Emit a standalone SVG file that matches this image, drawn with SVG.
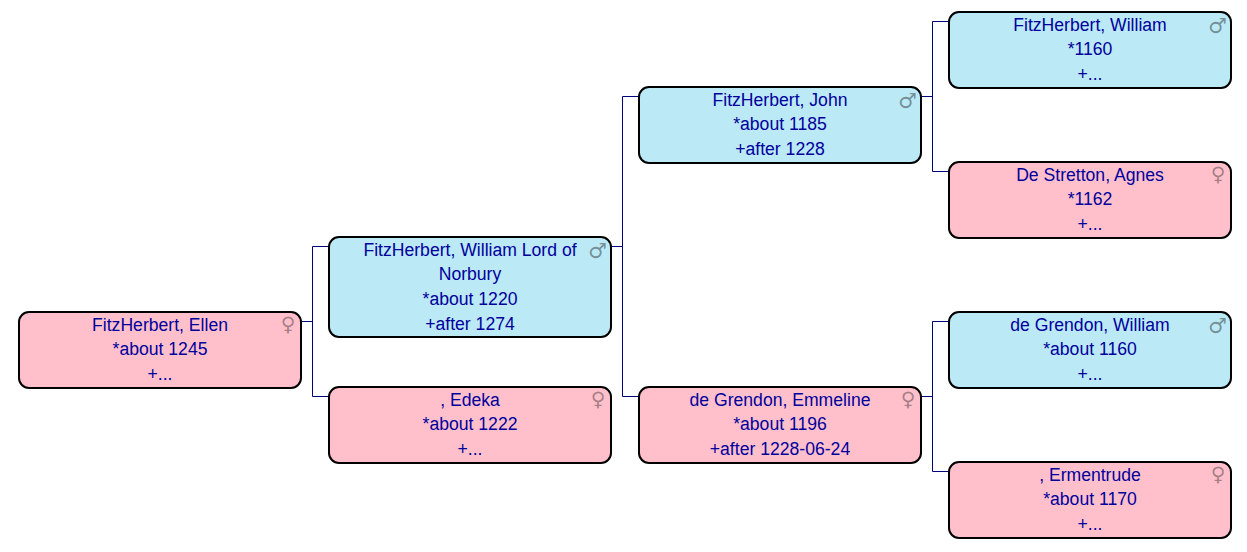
<svg xmlns="http://www.w3.org/2000/svg" width="1247" height="552" viewBox="0 0 1247 552">
<style>
.box{stroke:#000;stroke-width:2}
.m{fill:#bbe9f5}
.f{fill:#ffc0cb}
text{font-family:"Liberation Sans",Arial,sans-serif;font-size:17.6px;fill:#00009c;text-anchor:middle}
text.g{font-family:"DejaVu Sans",sans-serif;font-size:21px;fill:#000;fill-opacity:.4}
text.w{font-size:20px;fill-opacity:.36}
#connectors path{fill:none;stroke:#000080;stroke-width:1}
</style>
<rect width="1247" height="552" fill="#fff"/>
<g id="connectors">
<path d="M301.500 321.500H312.500M312.500 246.500V396.500M312.500 246.500H329M312.500 396.500H329"/>
<path d="M611.500 246.500H622.500M622.500 96.500V396.500M622.500 96.500H639M622.500 396.500H639"/>
<path d="M921.500 96.500H932.500M932.500 21.500V171.500M932.500 21.500H949M932.500 171.500H949"/>
<path d="M921.500 396.500H932.500M932.500 321.500V471.500M932.500 321.500H949M932.500 471.500H949"/>
</g>
<g id="n1"><rect class="box f" x="19" y="312" width="282" height="76" rx="10"/><text x="160" y="331">FitzHerbert, Ellen</text><text x="160" y="355">*about 1245</text><text x="160" y="380">+...</text><text class="g w" x="288" y="331">♀</text></g>
<g id="n2"><rect class="box m" x="329" y="237" width="282" height="100" rx="10"/><text x="470" y="256">FitzHerbert, William Lord of</text><text x="470" y="280">Norbury</text><text x="470" y="305">*about 1220</text><text x="470" y="330">+after 1274</text><text class="g" x="597.500" y="257.500">♂</text></g>
<g id="n3"><rect class="box f" x="329" y="387" width="282" height="76" rx="10"/><text x="470" y="406">, Edeka</text><text x="470" y="430">*about 1222</text><text x="470" y="455">+...</text><text class="g w" x="598" y="406">♀</text></g>
<g id="n4"><rect class="box m" x="639" y="87" width="282" height="76" rx="10"/><text x="780" y="106">FitzHerbert, John</text><text x="780" y="130">*about 1185</text><text x="780" y="155">+after 1228</text><text class="g" x="907.500" y="107.500">♂</text></g>
<g id="n5"><rect class="box f" x="639" y="387" width="282" height="76" rx="10"/><text x="780" y="406">de Grendon, Emmeline</text><text x="780" y="430">*about 1196</text><text x="780" y="455">+after 1228-06-24</text><text class="g w" x="908" y="406">♀</text></g>
<g id="n6"><rect class="box m" x="949" y="12" width="282" height="76" rx="10"/><text x="1090" y="31">FitzHerbert, William</text><text x="1090" y="55">*1160</text><text x="1090" y="80">+...</text><text class="g" x="1217.500" y="32.500">♂</text></g>
<g id="n7"><rect class="box f" x="949" y="162" width="282" height="76" rx="10"/><text x="1090" y="181">De Stretton, Agnes</text><text x="1090" y="205">*1162</text><text x="1090" y="230">+...</text><text class="g w" x="1218" y="181">♀</text></g>
<g id="n8"><rect class="box m" x="949" y="312" width="282" height="76" rx="10"/><text x="1090" y="331">de Grendon, William</text><text x="1090" y="355">*about 1160</text><text x="1090" y="380">+...</text><text class="g" x="1217.500" y="332.500">♂</text></g>
<g id="n9"><rect class="box f" x="949" y="462" width="282" height="76" rx="10"/><text x="1090" y="481">, Ermentrude</text><text x="1090" y="505">*about 1170</text><text x="1090" y="530">+...</text><text class="g w" x="1218" y="481">♀</text></g>
</svg>
